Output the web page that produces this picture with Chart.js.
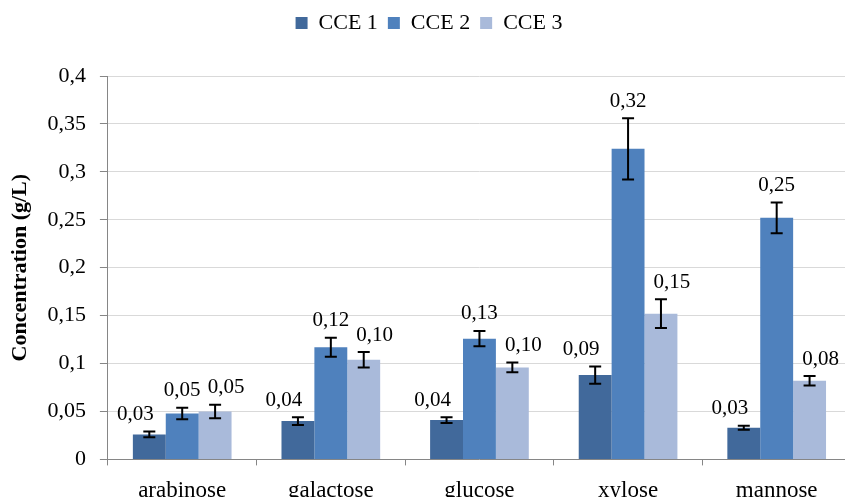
<!DOCTYPE html>
<html>
<head>
<meta charset="utf-8">
<script src="https://cdn.jsdelivr.net/npm/chart.js@4.4.1/dist/chart.umd.min.js"></script>
<style>
  html, body { margin: 0; padding: 0; background: #fff; overflow: hidden; }
  #wrap { width: 862px; height: 517px; position: relative; }
</style>
</head>
<body>
<div id="wrap"><canvas id="sugarChart"></canvas></div>
<script>
const sugars = ["arabinose", "galactose", "glucose", "xylose", "mannose"];
const seriesNames = ["CCE 1", "CCE 2", "CCE 3"];

// mean concentrations (g/L)
const cce1 = [0.026, 0.040, 0.041, 0.088, 0.033];
const cce2 = [0.048, 0.117, 0.126, 0.324, 0.252];
const cce3 = [0.050, 0.104, 0.096, 0.152, 0.082];

// standard deviations for the error bars
const cce1Err = [0.003, 0.004, 0.003, 0.009, 0.002];
const cce2Err = [0.006, 0.010, 0.008, 0.032, 0.016];
const cce3Err = [0.007, 0.008, 0.005, 0.015, 0.005];

const yTicks = [0, 0.05, 0.1, 0.15, 0.2, 0.25, 0.3, 0.35, 0.4];

const serif = "'Liberation Serif', 'Times New Roman', serif";
const colours = ["#41699B", "#4F81BD", "#A9BADA"];

function commaNum(v, digits) {
  if (digits !== undefined) return v.toFixed(digits).replace(".", ",");
  return String(Math.round(v * 100) / 100).replace(".", ",");
}

// draws error bars + value labels on top of each bar
const errorBarPlugin = {
  id: "errorBars",
  afterDatasetsDraw(chart) {
    const ctx = chart.ctx;
    const yScale = chart.scales.y;
    ctx.save();
    chart.data.datasets.forEach((ds, di) => {
      const meta = chart.getDatasetMeta(di);
      meta.data.forEach((bar, i) => {
        const v = ds.data[i];
        const e = ds.errors[i];
        const yTop = yScale.getPixelForValue(v + e);
        const yBot = yScale.getPixelForValue(v - e);
        const x = bar.x;
        ctx.strokeStyle = "#000";
        ctx.lineWidth = 2;
        ctx.beginPath();
        ctx.moveTo(x, yTop);
        ctx.lineTo(x, yBot);
        ctx.moveTo(x - 6, yTop);
        ctx.lineTo(x + 6, yTop);
        ctx.moveTo(x - 6, yBot);
        ctx.lineTo(x + 6, yBot);
        ctx.stroke();

        ctx.fillStyle = "#000";
        ctx.font = "21px " + serif;
        ctx.textAlign = "center";
        ctx.textBaseline = "middle";
        ctx.fillText(commaNum(v, 2), x + ds.labelShift, yTop - 17);
      });
    });
    ctx.restore();
  },
};

// push the plot down below the legend
const legendGap = {
  id: "legendGap",
  beforeInit(chart) {
    const origFit = chart.legend.fit;
    chart.legend.fit = function () {
      origFit.call(this);
      this.height += 32;
    };
  },
};

const datasets = [cce1, cce2, cce3].map((vals, i) => ({
  label: seriesNames[i],
  data: vals,
  errors: [cce1Err, cce2Err, cce3Err][i],
  labelShift: [-14, 0, 11][i],
  backgroundColor: colours[i],
  borderWidth: 0,
  barPercentage: 1.0,
  categoryPercentage: 0.664,
}));

const ctx = document.getElementById("sugarChart");
new Chart(ctx, {
  type: "bar",
  data: { labels: sugars, datasets: datasets },
  options: {
    responsive: true,
    maintainAspectRatio: false,
    animation: false,
    layout: { padding: { top: 2, right: 11, left: 7, bottom: 0 } },
    plugins: {
      legend: {
        position: "top",
        labels: {
          boxWidth: 12,
          boxHeight: 12,
          padding: 10,
          color: "#000",
          font: { family: serif, size: 22 },
        },
      },
      tooltip: { enabled: false },
    },
    scales: {
      x: {
        grid: {
          offset: true,
          drawOnChartArea: false,
          tickLength: 6,
          tickColor: "#868686",
        },
        border: { color: "#868686", width: 1 },
        ticks: {
          color: "#000",
          padding: 12,
          font: { family: serif, size: 23 },
        },
      },
      y: {
        min: 0,
        max: 0.4,
        afterBuildTicks(axis) {
          axis.ticks = yTicks.map((v) => ({ value: v }));
        },
        grid: {
          color: "#d9d9d9",
          tickColor: "#868686",
          tickLength: 8,
        },
        border: { color: "#868686", width: 1 },
        ticks: {
          color: "#000",
          padding: 14,
          font: { family: serif, size: 22 },
          callback: (v) => commaNum(v),
        },
        title: {
          display: true,
          text: "Concentration (g/L)",
          color: "#000",
          padding: { top: 0, bottom: 0 },
          font: { family: serif, size: 22, weight: "bold" },
        },
      },
    },
  },
  plugins: [errorBarPlugin, legendGap],
});
</script>
</body>
</html>
